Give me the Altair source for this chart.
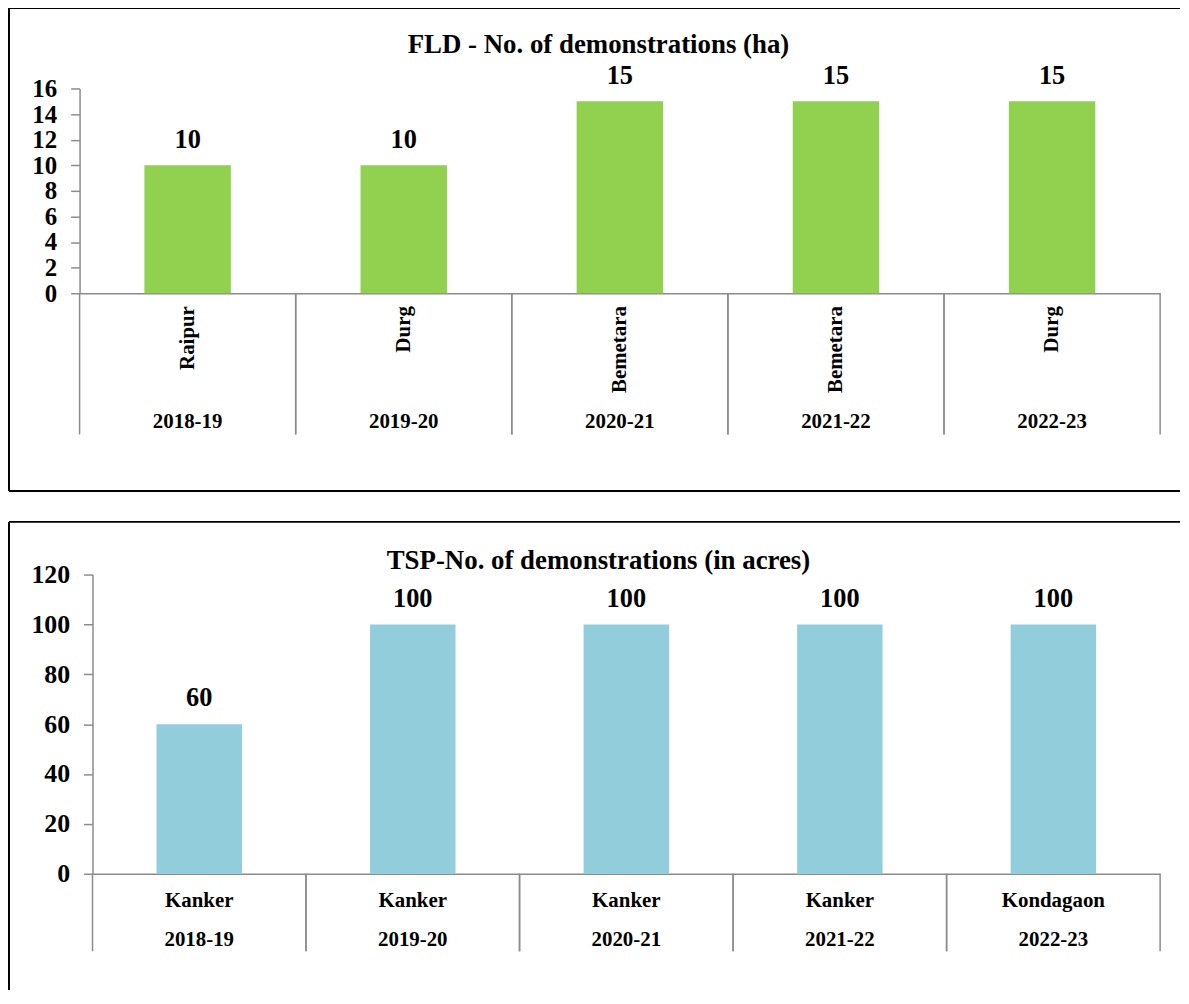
import altair as alt
import pandas as pd

years = ["2018-19", "2019-20", "2020-21", "2021-22", "2022-23"]
fld_locations = ["Raipur", "Durg", "Bemetara", "Bemetara", "Durg"]
fld_values = [10, 10, 15, 15, 15]
tsp_locations = ["Kanker", "Kanker", "Kanker", "Kanker", "Kondagaon"]
tsp_values = [60, 100, 100, 100, 100]
fld_title = "FLD - No. of demonstrations (ha)"
tsp_title = "TSP-No. of demonstrations (in acres)"
fld_ticks = [0, 2, 4, 6, 8, 10, 12, 14, 16]
tsp_ticks = [0, 20, 40, 60, 80, 100, 120]

FONT = "Liberation Serif"
GREY = "#8c8c8c"
W = 1087


def panel(locs, vals, ticks, title, color, x_start, H, rotated, loc_y, year_y,
          sep_end, box, title_xy, tick_font, label_dy):
    df = pd.DataFrame({"year": years, "loc": locs, "val": vals})
    base = alt.Chart(df)
    xs = alt.Scale(paddingInner=0, paddingOuter=0, range=[x_start, W])
    ys = alt.Scale(domain=[ticks[0], ticks[-1]], nice=False)
    x_axis = alt.Axis(labels=False, ticks=False, title=None, domainColor=GREY,
                      domainWidth=1.5)
    y_axis = alt.Axis(values=ticks, tickCount=len(ticks), title=None, grid=False,
                      domainColor=GREY, domainWidth=1.5, tickColor=GREY,
                      tickWidth=1.5, tickSize=9, labelPadding=14, labelFont=FONT,
                      labelFontWeight="bold", labelFontSize=tick_font,
                      labelColor="black", labelOverlap=False, labelBound=False,
                      labelFlush=False, offset=-x_start)
    X = alt.X("year:N", sort=years, scale=xs, axis=x_axis)
    bars = base.mark_bar(width={"band": 0.4}, color=color).encode(
        x=X, y=alt.Y("val:Q", scale=ys, axis=y_axis))
    labels = base.mark_text(font=FONT, fontWeight="bold", fontSize=26.5,
                            baseline="alphabetic", dy=label_dy, color="black").encode(
        x=X, y=alt.Y("val:Q", scale=ys, axis=y_axis), text="val:Q")
    seps = []
    for bp in (0, 1):
        seps.append(base.mark_rule(color=GREY, strokeWidth=1.5).encode(
            x=alt.X("year:N", sort=years, scale=xs, axis=x_axis, bandPosition=bp),
            y=alt.value(H), y2=alt.value(H + sep_end)))
    if rotated:
        loc_text = base.mark_text(font=FONT, fontWeight="bold", fontSize=21,
                                  angle=270, align="right", baseline="middle",
                                  color="black").encode(
            x=X, y=alt.value(H + loc_y), text="loc:N")
    else:
        loc_text = base.mark_text(font=FONT, fontWeight="bold", fontSize=21,
                                  baseline="middle", color="black").encode(
            x=X, y=alt.value(H + loc_y), text="loc:N")
    year_text = base.mark_text(font=FONT, fontWeight="bold", fontSize=21,
                               baseline="middle", color="black").encode(
        x=X, y=alt.value(H + year_y), text="year:N")
    one = alt.Chart(pd.DataFrame({"t": [title]}))
    ttl = one.mark_text(font=FONT, fontWeight="bold", fontSize=27, baseline="middle",
                        color="black").encode(
        text="t:N", x=alt.value(title_xy[0]), y=alt.value(title_xy[1]))
    x0, y0, x1, y1, bottom = box
    edges = [
        one.mark_rule(color="black", strokeWidth=2).encode(
            x=alt.value(x0), x2=alt.value(x1), y=alt.value(y0)),
        one.mark_rule(color="black", strokeWidth=2).encode(
            x=alt.value(x0), y=alt.value(y0), y2=alt.value(y1)),
    ]
    if bottom:
        edges.append(one.mark_rule(color="black", strokeWidth=2).encode(
            x=alt.value(x0), x2=alt.value(x1), y=alt.value(y1)))
    return alt.layer(bars, labels, *seps, loc_text, year_text, ttl, *edges).properties(
        width=W, height=H)


top = panel(fld_locations, fld_values, fld_ticks, fld_title, "#92D050",
            0, 206, True, 13, 130, 142,
            (-71, -81, 1107, 405, True), (522, -44), 25, -17)
bottom = panel(tsp_locations, tsp_values, tsp_ticks, tsp_title, "#92CDDC",
               13, 301, False, 27, 67, 78,
               (-71, -53, 1107, 418, False), (522, -14), 26, -18)

chart = alt.vconcat(top, bottom, spacing=29).properties(
    padding={"left": 0, "top": -4, "right": 0, "bottom": 0}
).configure(background="white", view=alt.ViewConfig(stroke=None),
            axis=alt.AxisConfig(labelOverlap=False))

chart.save("out.html", embed_options={"renderer": "svg", "actions": False})
